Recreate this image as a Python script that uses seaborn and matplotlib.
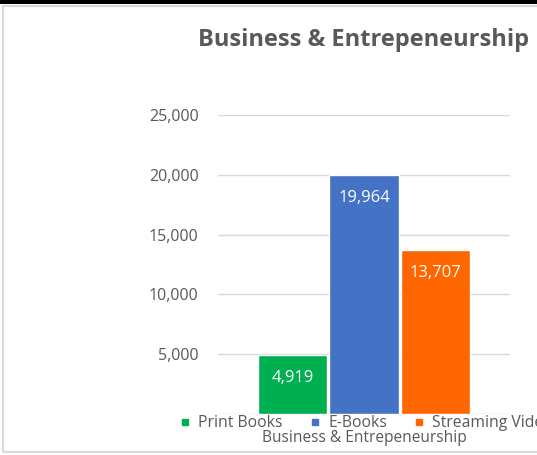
import matplotlib
matplotlib.use("Agg")
import matplotlib.pyplot as plt
import seaborn as sns
import pandas as pd
from matplotlib.patches import Rectangle
from matplotlib.lines import Line2D

category = ["Business & Entrepeneurship"]
series = ["Print Books", "E-Books", "Streaming Video"]
values = [4919, 19964, 13707]
colors = ["#00B050", "#4472C4", "#FF6600"]
yticks = [0, 5000, 10000, 15000, 20000, 25000]
ytick_labels = ["", "5,000", "10,000", "15,000", "20,000", "25,000"]

df = pd.DataFrame({"cat": category * len(series), "series": series, "value": values})

sns.set_theme(style="white")
plt.rcParams["font.family"] = ["Open Sans", "DejaVu Sans"]

W, H = 537, 455
fig = plt.figure(figsize=(W / 100, H / 100), dpi=100)
fig.patch.set_facecolor("white")

# outer chart border and dark top band
fig.add_artist(Rectangle((3 / W, 1 - 452 / H), 1.0, (452 - 6) / H, transform=fig.transFigure,
                         fill=False, edgecolor="#D9D9D9", linewidth=1.5))
fig.add_artist(Rectangle((0, 1 - 3.5 / H), 1, 3.5 / H, transform=fig.transFigure,
                         facecolor="black", edgecolor="none"))

left, right, top, bottom = 218, 510, 115, 414
ax = fig.add_axes([left / W, 1 - bottom / H, (right - left) / W, (bottom - top) / H])

sns.barplot(data=df, x="cat", y="value", hue="series", hue_order=series,
            palette=colors, width=0.735, gap=0.03, saturation=1, ax=ax, legend=False)

ax.set_xlim(-0.5, 0.5)
ax.set_ylim(0, 25000)
ax.set_yticks(yticks)
ax.set_yticklabels(ytick_labels, color="#595959", fontsize=11.5)
ax.tick_params(axis="y", length=0, pad=14)
ax.set_xticks([])
ax.set_xlabel("")
ax.set_ylabel("")
ax.yaxis.grid(True, color="#D9D9D9", linewidth=1)
ax.set_axisbelow(True)
for s in ax.spines.values():
    s.set_visible(False)

for p in ax.patches:
    h = p.get_height()
    if h > 0:
        ax.annotate(f"{h:,.0f}", (p.get_x() + p.get_width() / 2, h),
                    xytext=(0, -16.5), textcoords="offset points",
                    ha="center", va="center", color="white", fontsize=12)

fig.text(364 / W, 1 - 40 / H, "Business & Entrepeneurship", ha="center", va="center",
         fontsize=17, fontweight="bold", color="#595959")

# legend
handles = [Line2D([0], [0], marker="s", linestyle="none", markersize=4.5,
                  markerfacecolor=c, markeredgecolor=c) for c in colors]
fig.legend(handles, series, loc="center left", bbox_to_anchor=(179 / W, 1 - 423 / H),
           ncol=3, frameon=False, fontsize=11.3, labelcolor="#595959",
           handletextpad=0.43, columnspacing=1.65, handlelength=0.8, borderpad=0,
           borderaxespad=0)

fig.text(364 / W, 1 - 438 / H, category[0], ha="center", va="center",
         fontsize=11.2, color="#595959")

fig.savefig("out.png", dpi=100)
